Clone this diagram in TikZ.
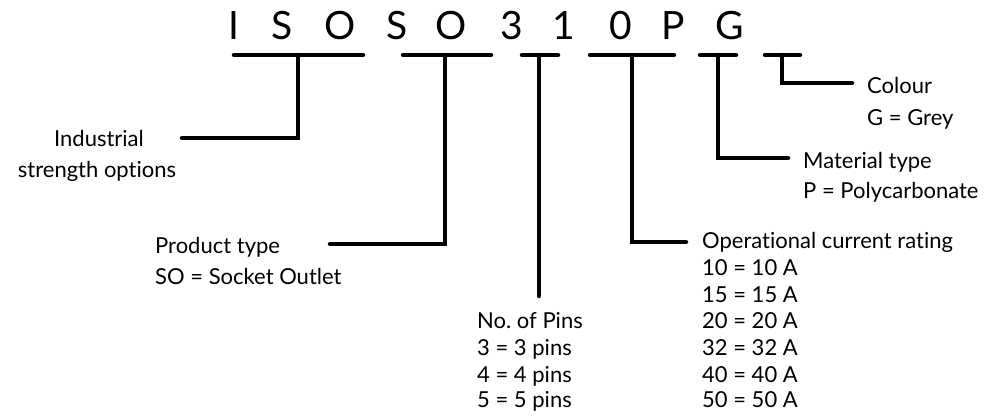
\documentclass[tikz,border=0pt]{standalone}
\usepackage{fontspec}
\setmainfont[Ligatures=NoCommon]{Lato}
\frenchspacing
\begin{document}
\begin{tikzpicture}[x=1pt,y=-1pt,
  conn/.style={line width=4.5pt, line cap=round, line join=miter},
  big/.style={font=\fontsize{39}{39}\selectfont, inner sep=0pt, anchor=base},
  lbl/.style={font=\fontsize{22}{26}\selectfont, inner sep=0pt, anchor=base west},
  lblc/.style={font=\fontsize{22}{26}\selectfont, inner sep=0pt, anchor=base}]
\useasboundingbox (0,0) rectangle (997,416);
% code letters
\node[big] (c1) at (234,39) {I};
\node[big] (c2) at (282,39) {S};
\node[big] (c3) at (340,39) {O};
\node[big] (c4) at (397,39) {S};
\node[big] (c5) at (451,39) {O};
\node[big] (c6) at (512,39) {3};
\node[big] (c7) at (564,39) {1};
\node[big] (c8) at (621,39) {0};
\node[big] (c9) at (673,39) {P};
\node[big] (c10) at (730,39) {G};
% bars
\coordinate (b1L) at (234,55); \coordinate (b1R) at (363,55); \coordinate (b1M) at (298,55);
\coordinate (b2L) at (403,55); \coordinate (b2R) at (491,55); \coordinate (b2M) at (445,55);
\coordinate (b3L) at (522,55); \coordinate (b3R) at (558,55); \coordinate (b3M) at (539,55);
\coordinate (b4L) at (590,55); \coordinate (b4R) at (674,55); \coordinate (b4M) at (632,55);
\coordinate (b5L) at (700,55); \coordinate (b5R) at (736,55); \coordinate (b5M) at (718,55);
\coordinate (b6L) at (765,55); \coordinate (b6R) at (800,55); \coordinate (b6M) at (782,55);
% ends
\coordinate (e1) at (182,138);
\coordinate (e2) at (330,244);
\coordinate (e3) at (539,296);
\coordinate (e4) at (686,242);
\coordinate (e5) at (788,158);
\coordinate (e6) at (852,83);
% labels
\node[lblc] (ind1) at (99,146) {Industrial};
\node[lblc] (ind2) at (97,177) {strength options};
\node[lbl] (prd1) at (155,253) {Product type};
\node[lbl] (prd2) at (155,284) {SO = Socket Outlet};
\node[lbl] (pin1) at (477,328) {No. of Pins};
\node[lbl] (pin2) at (477,355) {3 = 3 pins};
\node[lbl] (pin3) at (477,382) {4 = 4 pins};
\node[lbl] (pin4) at (477,407) {5 = 5 pins};
\node[lbl] (op1) at (702,248) {Operational current rating};
\node[lbl] (op2) at (702,275) {10 = 10 A};
\node[lbl] (op3) at (702,302) {15 = 15 A};
\node[lbl] (op4) at (702,328) {20 = 20 A};
\node[lbl] (op5) at (702,355) {32 = 32 A};
\node[lbl] (op6) at (702,382) {40 = 40 A};
\node[lbl] (op7) at (702,407) {50 = 50 A};
\node[lbl] (mat1) at (803,168) {Material type};
\node[lbl] (mat2) at (803,198) {P = Polycarbonate};
\node[lbl] (col1) at (867,93) {Colour};
\node[lbl] (col2) at (867,125) {G = Grey};
% connectors
\draw[conn] (b1L) -- (b1R); \draw[conn] (b1M) |- (e1);
\draw[conn] (b2L) -- (b2R); \draw[conn] (b2M) |- (e2);
\draw[conn] (b3L) -- (b3R); \draw[conn] (b3M) -- (e3);
\draw[conn] (b4L) -- (b4R); \draw[conn] (b4M) |- (e4);
\draw[conn] (b5L) -- (b5R); \draw[conn] (b5M) |- (e5);
\draw[conn] (b6L) -- (b6R); \draw[conn] (b6M) |- (e6);
\end{tikzpicture}
\end{document}
